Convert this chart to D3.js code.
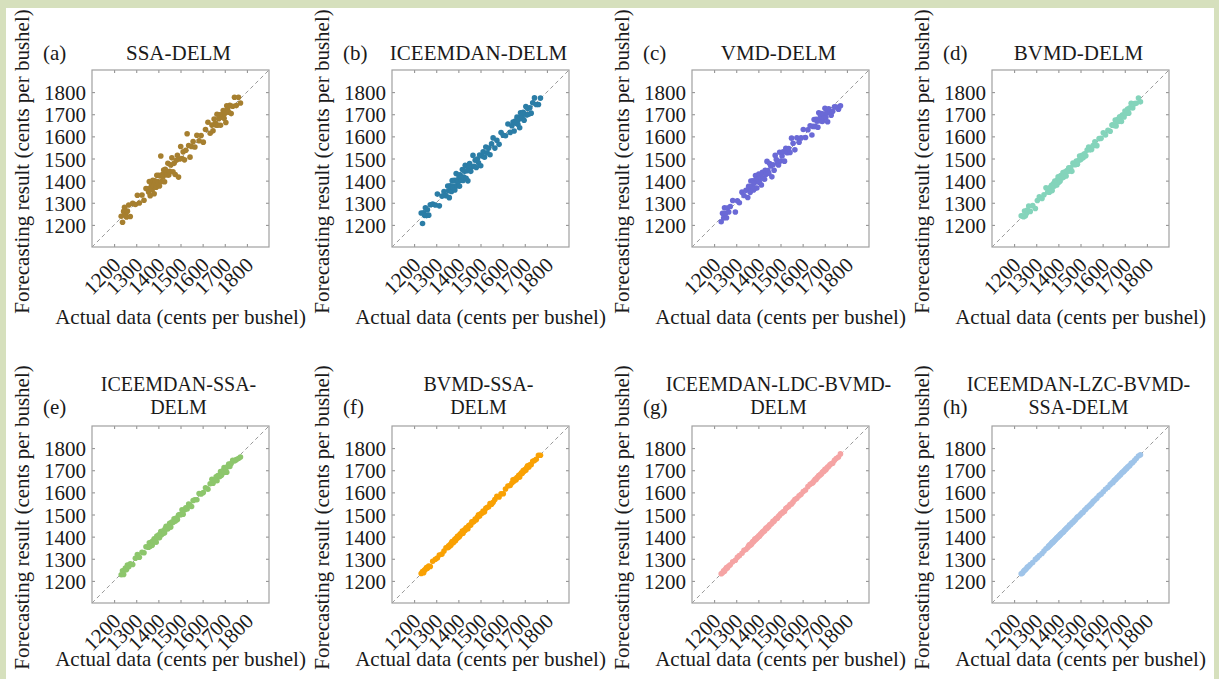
<!DOCTYPE html>
<html>
<head>
<meta charset="utf-8">
<style>
  html, body { margin: 0; padding: 0; background: #d6e0bd; }
  svg { display: block; }
  .tick text { font-family: "Liberation Serif", "Times New Roman", serif; font-size: 21px; fill: #1a1a1a; }
  .lbl { font-family: "Liberation Serif", "Times New Roman", serif; fill: #1a1a1a; }
</style>
</head>
<body>
<svg id="chart" width="1219" height="679"></svg>
<script src="https://cdn.jsdelivr.net/npm/d3@7"></script>
<script>
// test set: actual price (cents per bushel)
var actual = [1232,1238,1243,1247,1251,1256,1260,1266,1273,1284,
  1296,1305,1314,1326,1335,1344,
  1352,1356,1359,1363,1366,1369,1372,1375,1378,1381,1384,1387,1390,1393,1396,1399,1402,1405,1408,1411,1414,1418,1421,1424,1428,1431,1435,1439,1443,1447,
  1451,1456,1461,1466,1471,1476,1481,1486,1491,1496,1501,1507,1512,1518,1524,1530,1537,1543,1550,1557,
  1565,1574,1584,1593,1603,1613,1624,1634,
  1642,1647,1652,1657,1661,1665,1669,1673,1677,1681,1685,1689,1693,1697,1701,1705,1709,1713,1718,1723,1729,1736,1744,1752,
  1762,1771];

// forecasts of each model
var fcSSA = [1239,1212,1261,1280,1242,1236,1262,1290,1238,1297,
  1292,1334,1299,1335,1311,1364,
  1363,1349,1396,1332,1370,1387,1359,1401,1376,1341,1399,1394,1370,1424,1396,1388,1424,1376,1421,1511,1396,1427,1417,1448,1395,1451,1439,1426,1478,1425,
  1442,1471,1503,1440,1478,1428,1492,1515,1416,1498,1554,1500,1530,1494,1537,1612,1559,1506,1554,1577,
  1552,1605,1580,1604,1574,1631,1664,1614,
  1651,1625,1678,1659,1650,1700,1651,1680,1697,1650,1698,1687,1717,1682,1705,1663,1738,1724,1709,1741,1703,1736,1777,1739,
  1777,1751];
var fcICEEMDAN = [1254,1206,1255,1243,1277,1242,1268,1244,1291,1294,
  1290,1339,1286,1330,1351,1332,
  1376,1354,1323,1377,1372,1351,1400,1375,1368,1401,1358,1399,1432,1377,1404,1395,1424,1375,1426,1415,1402,1450,1401,1416,1442,1469,1411,1445,1399,1457,
  1477,1442,1463,1514,1465,1492,1459,1498,1481,1516,1467,1511,1530,1506,1552,1526,1547,1517,1566,1593,
  1547,1582,1564,1617,1605,1603,1656,1618,
  1648,1665,1624,1669,1659,1687,1655,1677,1639,1707,1695,1681,1709,1673,1701,1735,1697,1727,1700,1729,1705,1752,1774,1744,
  1744,1773];
var fcVMD = [1214,1252,1231,1277,1251,1232,1276,1258,1283,1310,
  1258,1309,1300,1348,1333,1356,
  1324,1374,1365,1347,1398,1359,1374,1399,1358,1389,1366,1423,1406,1367,1406,1395,1430,1393,1426,1415,1380,1438,1411,1436,1406,1447,1429,1487,1445,1433,
  1477,1466,1417,1472,1447,1514,1495,1478,1471,1528,1489,1511,1530,1488,1546,1526,1545,1527,1592,1569,
  1539,1594,1574,1593,1631,1595,1630,1648,
  1606,1645,1676,1645,1677,1669,1641,1707,1671,1691,1703,1667,1701,1683,1727,1686,1706,1666,1725,1710,1696,1713,1734,1733,
  1723,1738];
var fcBVMD = [1241,1240,1237,1263,1241,1252,1267,1285,1261,1287,
  1274,1310,1327,1319,1336,1368,
  1349,1364,1348,1369,1361,1379,1355,1377,1387,1375,1398,1385,1395,1380,1404,1417,1393,1409,1398,1423,1415,1413,1437,1416,1431,1440,1421,1445,1442,1458,
  1444,1458,1442,1479,1476,1472,1489,1474,1491,1511,1495,1514,1503,1521,1512,1538,1552,1539,1541,1558,
  1576,1558,1590,1591,1616,1606,1628,1623,
  1651,1652,1649,1674,1647,1667,1677,1667,1689,1680,1667,1696,1696,1688,1715,1705,1704,1723,1705,1729,1750,1728,1748,1750,
  1773,1756];
var fcIceSSA = [1228,1246,1229,1249,1258,1251,1271,1264,1277,1274,
  1302,1319,1307,1329,1327,1354,
  1353,1352,1372,1357,1368,1376,1361,1380,1377,1390,1378,1389,1375,1403,1400,1396,1408,1395,1408,1423,1409,1424,1414,1426,1418,1437,1447,1436,1436,1448,
  1460,1443,1466,1464,1481,1470,1484,1477,1498,1500,1499,1521,1501,1520,1530,1525,1547,1542,1536,1563,
  1567,1567,1595,1593,1599,1621,1614,1639,
  1659,1641,1655,1655,1670,1653,1676,1675,1672,1694,1677,1686,1699,1712,1691,1707,1691,1717,1728,1717,1730,1745,1742,1748,
  1753,1760];
var fcBvmdSSA = [1233,1242,1237,1249,1251,1260,1257,1267,1265,1289,
  1298,1303,1317,1321,1335,1350,
  1350,1359,1355,1364,1361,1372,1378,1373,1374,1381,1388,1381,1392,1392,1401,1396,1404,1401,1412,1413,1413,1425,1415,1425,1431,1429,1440,1439,1436,1450,
  1452,1452,1467,1466,1469,1480,1476,1488,1499,1493,1503,1506,1516,1512,1528,1531,1535,1549,1546,1555,
  1568,1582,1579,1594,1594,1615,1629,1631,
  1642,1657,1651,1660,1657,1667,1667,1677,1670,1682,1689,1687,1699,1696,1703,1700,1712,1720,1714,1725,1725,1741,1744,1750,
  1768,1768];
var fcLdcBvmd = [1232,1237,1245,1244,1252,1260,1258,1267,1273,1286,
  1293,1307,1314,1325,1338,1342,
  1351,1357,1363,1361,1367,1365,1373,1378,1377,1381,1389,1386,1392,1391,1397,1398,1404,1402,1408,1413,1413,1421,1421,1425,1425,1433,1439,1437,1444,1445,
  1453,1456,1460,1469,1469,1477,1483,1483,1492,1496,1503,1506,1512,1514,1527,1531,1536,1545,1548,1557,
  1568,1573,1585,1591,1604,1611,1626,1637,
  1641,1645,1652,1659,1658,1666,1669,1676,1676,1682,1683,1691,1694,1696,1704,1702,1709,1715,1717,1725,1729,1732,1745,1753,
  1760,1774];
var fcLzcBvmdSSA = [1232,1236,1243,1248,1250,1256,1262,1266,1274,1283,
  1297,1305,1315,1324,1335,1345,
  1351,1357,1359,1363,1365,1370,1374,1374,1378,1380,1385,1387,1390,1395,1395,1399,1403,1404,1409,1411,1415,1417,1421,1422,1429,1431,1435,1440,1442,1447,
  1453,1455,1462,1465,1471,1475,1482,1488,1491,1495,1501,1508,1510,1519,1524,1531,1536,1543,1549,1558,
  1565,1574,1586,1592,1603,1614,1623,1635,
  1642,1645,1653,1657,1660,1666,1669,1673,1678,1680,1686,1691,1692,1697,1701,1706,1708,1714,1718,1722,1731,1735,1744,1753,
  1764,1770];

var panelTags = ["(a)","(b)","(c)","(d)","(e)","(f)","(g)","(h)"];
var panelTitles = [["SSA-DELM"],["ICEEMDAN-DELM"],["VMD-DELM"],["BVMD-DELM"],
  ["ICEEMDAN-SSA-","DELM"],["BVMD-SSA-","DELM"],["ICEEMDAN-LDC-BVMD-","DELM"],["ICEEMDAN-LZC-BVMD-","SSA-DELM"]];
var panelSeries = [fcSSA, fcICEEMDAN, fcVMD, fcBVMD, fcIceSSA, fcBvmdSSA, fcLdcBvmd, fcLzcBvmdSSA];
var panelColors = ["#a67f2f","#2b7da6","#6a69d6","#84d4bb","#8dc66c","#f9a103","#f5a4a4","#9fc4e9"];
var tickVals = [1200,1300,1400,1500,1600,1700,1800];
var axisDomain = [1100,1900];

var svg = d3.select("#chart");
// white sheet inside the green frame
svg.append("rect").attr("x", 6).attr("y", 8).attr("width", 1208).attr("height", 671).attr("fill", "#fff");

var size = 177;
var colLeft = [92, 392, 692, 992];
var rowTop = [70, 426];
var xLabelGap = [77, 63];

panelSeries.forEach(function(fc, k) {
  var row = Math.floor(k / 4);
  var L = colLeft[k % 4], T = rowTop[row];
  var g = svg.append("g").attr("transform", "translate(" + L + "," + T + ")");
  var x = d3.scaleLinear().domain(axisDomain).range([0, size]);
  var y = d3.scaleLinear().domain(axisDomain).range([size, 0]);
  var fmt = d3.format("d");

  g.append("rect").attr("width", size).attr("height", size).attr("fill", "#fff");

  // inward ticks on all four sides
  g.append("g").call(d3.axisTop(x).tickValues(tickVals).tickSize(-3).tickFormat(""));
  g.append("g").attr("transform", "translate(" + size + ",0)")
    .call(d3.axisRight(y).tickValues(tickVals).tickSize(-3).tickFormat(""));
  var ya = g.append("g").call(d3.axisLeft(y).tickValues(tickVals).tickFormat(fmt)
    .tickSizeInner(-3).tickSizeOuter(0).tickPadding(6));
  var xa = g.append("g").attr("transform", "translate(0," + size + ")")
    .call(d3.axisBottom(x).tickValues(tickVals).tickFormat(fmt).tickSizeInner(-3).tickSizeOuter(0));
  xa.selectAll("text")
    .attr("x", 0).attr("y", 0).attr("dy", "0.35em")
    .attr("transform", "translate(2,14) rotate(-45)")
    .style("text-anchor", "end");
  g.selectAll(".tick line").attr("stroke", "#8a8a8a");
  g.selectAll(".domain").remove();
  ya.selectAll("text").attr("dy", "0.36em");

  // y = x reference
  g.append("line")
    .attr("x1", x(axisDomain[0])).attr("y1", y(axisDomain[0]))
    .attr("x2", x(axisDomain[1])).attr("y2", y(axisDomain[1]))
    .attr("stroke", "#9a9a9a").attr("stroke-width", 1).attr("stroke-dasharray", "4,3");

  g.append("g").selectAll("circle")
    .data(actual.map(function(a, i) { return [a, fc[i]]; }))
    .join("circle")
    .attr("cx", function(d) { return x(d[0]); })
    .attr("cy", function(d) { return y(d[1]); })
    .attr("r", 2.8)
    .attr("fill", panelColors[k]);

  g.append("rect").attr("width", size).attr("height", size)
    .attr("fill", "none").attr("stroke", "#a0a0a0").attr("stroke-width", 1.2);

  // titles
  var lines = panelTitles[k];
  var lineGap = 23;
  var baseY = lines.length === 1 ? -10 : -35;
  lines.forEach(function(t, j) {
    g.append("text").attr("class", "lbl")
      .attr("x", size / 2 - 2).attr("y", baseY + j * lineGap)
      .attr("text-anchor", "middle").attr("font-size", lines.length === 1 ? 21 : 20).text(t);
  });
  g.append("text").attr("class", "lbl")
    .attr("x", -49).attr("y", baseY + (lines.length - 1) * lineGap)
    .attr("font-size", 21).text(panelTags[k]);

  // axis labels
  g.append("text").attr("class", "lbl")
    .attr("transform", "translate(-70," + (size / 2 + 3) + ") rotate(-90)")
    .attr("dy", "0.35em").attr("text-anchor", "middle").attr("font-size", 21)
    .text("Forecasting result (cents per bushel)");
  g.append("text").attr("class", "lbl")
    .attr("x", size / 2).attr("y", size + xLabelGap[row])
    .attr("text-anchor", "middle").attr("font-size", 21)
    .text("Actual data (cents per bushel)");
});
</script>
</body>
</html>
